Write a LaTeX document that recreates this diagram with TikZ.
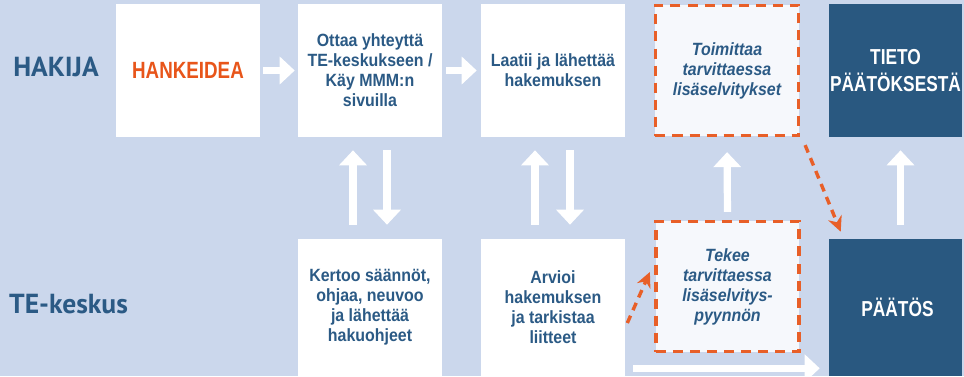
\documentclass[tikz,border=0pt]{standalone}
\usepackage{fontspec}
\setmainfont{Liberation Sans}
\newfontfamily\labelfont{PT Sans}
\newfontfamily\boxfont[FakeStretch=0.9]{Liberation Sans}
\newfontfamily\titlefont[FakeStretch=0.8]{Liberation Sans}
\usepackage{xcolor}
\usepackage{tikz}
\usetikzlibrary{arrows.meta,calc}
\definecolor{bgblue}{HTML}{CBD7EC}
\definecolor{textblue}{HTML}{2B5A85}
\definecolor{darkblue}{HTML}{295880}
\definecolor{ideaorange}{HTML}{E8551A}
\definecolor{dashorange}{HTML}{E85F28}
\definecolor{paleblue}{HTML}{F6F8FC}

\begin{document}
\begin{tikzpicture}[x=0.025cm, y=-0.025cm,
    rowlabel/.style={text=textblue, font=\labelfont\bfseries\fontsize{19.6}{22}\selectfont, inner sep=0pt},
    whitebox/.style={fill=white, minimum width=3.6cm, minimum height=3.325cm, inner sep=0pt,
        align=center, text=textblue, font=\boxfont\bfseries\fontsize{12.6}{14.2}\selectfont},
    dashbox/.style={fill=paleblue, draw=dashorange, line width=0.08cm, dash pattern=on 0.25cm off 0.175cm,
        minimum width=3.575cm, minimum height=3.25cm, inner sep=0pt,
        align=center, text=textblue, font=\boxfont\bfseries\itshape\fontsize{12.6}{14.2}\selectfont},
    darkbox/.style={fill=darkblue, minimum width=3.325cm, minimum height=3.325cm, inner sep=0pt,
        align=center, text=white, font=\titlefont\bfseries\fontsize{15.4}{19}\selectfont},
    flow/.style={draw=white, line width=0.18cm, -{Triangle[width=0.675cm, length=0.375cm]}},
    extra/.style={draw=dashorange, line width=0.085cm, dash pattern=on 0.2cm off 0.15cm,
        -{Stealth[length=0.38cm, width=0.36cm]}}]
    % canvas
    \useasboundingbox (0,0) rectangle (964,376);
    \clip (0,0) rectangle (964,376);
    \fill[bgblue] (0,0) rectangle (964,376);

    % row labels
    \node[rowlabel] (hakija) at (56,67) {HAKIJA};
    \node[rowlabel] (tek) at (68.5,304) {TE-keskus};

    % upper row
    \node[whitebox, text=ideaorange, font=\titlefont\bfseries\fontsize{16.7}{20}\selectfont] (hanke) at (188,70.5) {HANKEIDEA};
    \node[whitebox] (ota) at (370,70.5) {Ottaa yhteyttä\\TE-keskukseen /\\Käy MMM:n\\sivuilla};
    \node[whitebox] (laatii) at (553,70.5) {Laatii ja lähettää\\hakemuksen};
    \node[dashbox] (toim) at (727,70.5) {Toimittaa\\tarvittaessa\\lisäselvitykset};
    \node[darkbox] (tieto) at (895.5,70.5) {TIETO\\PÄÄTÖKSESTÄ};

    % lower row
    \node[whitebox, minimum height=3.425cm] (kertoo) at (370,307.5) {Kertoo säännöt,\\ohjaa, neuvoo\\ja lähettää\\hakuohjeet};
    \node[whitebox, minimum height=3.425cm] (arvioi) at (553,307.5) {Arvioi\\hakemuksen\\ja tarkistaa\\liitteet};
    \node[dashbox] (tekee) at (727.5,286.5) {Tekee\\tarvittaessa\\lisäselvitys-\\pyynnön};
    \node[darkbox, minimum height=3.425cm] (paatos) at (895.5,307.5) {\hspace*{0.1cm}PÄÄTÖS};

    % white flow arrows
    \draw[flow, shorten <=0.075cm, shorten >=0.075cm] (hanke) -- (ota);
    \draw[flow, shorten <=0.1cm, shorten >=0.1cm] (ota) -- (laatii);
    \draw[flow, shorten <=0.35cm, shorten >=0.325cm] ([xshift=-0.425cm]kertoo.north) -- ([xshift=-0.425cm]ota.south);
    \draw[flow, shorten <=0.325cm, shorten >=0.35cm] ([xshift=0.425cm]ota.south) -- ([xshift=0.425cm]kertoo.north);
    \draw[flow, shorten <=0.35cm, shorten >=0.325cm] ([xshift=-0.45cm]arvioi.north) -- ([xshift=-0.45cm]laatii.south);
    \draw[flow, shorten <=0.325cm, shorten >=0.35cm] ([xshift=0.425cm]laatii.south) -- ([xshift=0.425cm]arvioi.north);
    \draw[flow, shorten <=0.2cm, shorten >=0.375cm] (tekee.north) -- (toim.south);
    \draw[flow, shorten <=0.35cm, shorten >=0.325cm] ([xshift=0.125cm]paatos.north) -- ([xshift=0.125cm]tieto.south);
    \draw[flow] ($(arvioi.south east)+(8,-8)$) -- ($(paatos.south west)+(-9,-8)$);

    % requests for more information
    \draw[extra] ($(toim.south east)+(5,8)$) -- ($(paatos.north west)+(12,-7)$);
    \draw[extra] ($(arvioi.east)+(2,15.5)$) -- ($(tekee.west)+(-4.5,-14.5)$);
\end{tikzpicture}
\end{document}
